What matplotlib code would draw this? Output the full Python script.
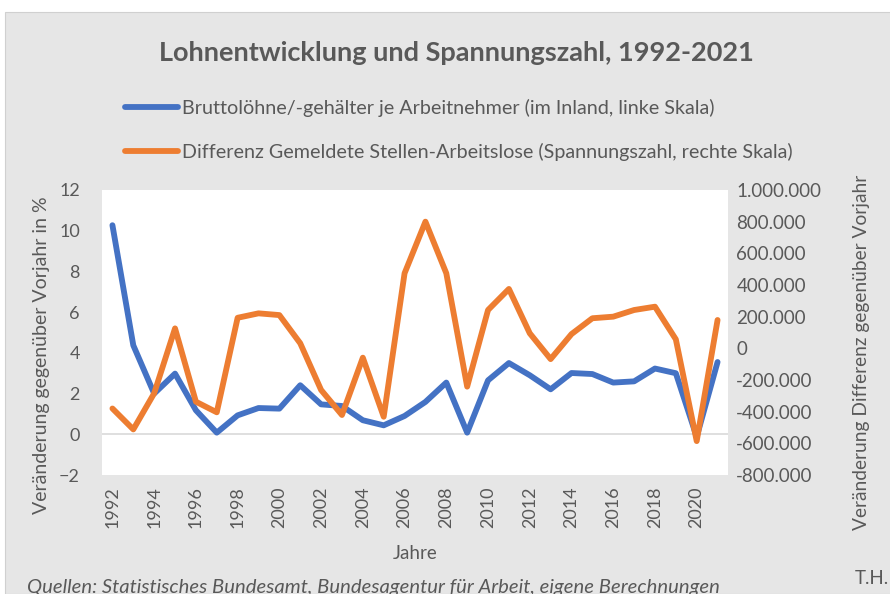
import matplotlib
matplotlib.use("Agg")
import matplotlib.pyplot as plt
from matplotlib.patches import Rectangle
from matplotlib.lines import Line2D
from matplotlib.ticker import FuncFormatter, MultipleLocator

years = list(range(1992, 2022))
wages = [10.27, 4.37, 2.0, 2.98, 1.18, 0.08, 0.93, 1.29, 1.26, 2.41,
         1.47, 1.39, 0.69, 0.44, 0.9, 1.59, 2.54, 0.08, 2.65, 3.5,
         2.9, 2.21, 3.01, 2.96, 2.54, 2.6, 3.23, 3.0, -0.13, 3.55]
spannung = [-380000, -512000, -284000, 126000, -337000, -404000, 193000, 221000, 210000, 32000,
            -263000, -421000, -59000, -432000, 474000, 800000, 474000, -242000, 242000, 375000,
            95000, -68000, 90000, 190000, 200000, 242000, 263000, 57000, -586000, 179000]

label_wages = "Bruttolöhne/-gehälter je Arbeitnehmer (im Inland, linke Skala)"
label_sp = "Differenz Gemeldete Stellen-Arbeitslose (Spannungszahl, rechte Skala)"
title = "Lohnentwicklung und Spannungszahl, 1992-2021"

plt.rcParams['font.family'] = ['Lato', 'DejaVu Sans']
txt = '#595959'
blue = '#4472C4'
orange = '#ED7D31'
bg = '#E6E6E6'

fig = plt.figure(figsize=(8.9, 5.94), dpi=100, facecolor='white')
fig.patches.append(Rectangle((5/890, 0), 1, 1 - 12/594, transform=fig.transFigure,
                             facecolor=bg, edgecolor='#D0D0D0', lw=0.8, zorder=-10))

ax = fig.add_axes([102/890, 1 - 475/594, (728 - 102)/890, (475 - 190)/594])
ax.set_facecolor('white')
ax2 = ax.twinx()

ax.plot(years, wages, color=blue, lw=4.2, solid_capstyle='round', solid_joinstyle='round', zorder=3)
ax2.plot(years, spannung, color=orange, lw=4.2, solid_capstyle='round', solid_joinstyle='round', zorder=3)

ax.set_xlim(1991.5, 2021.5)
ax.set_ylim(-2, 12)
ax.yaxis.set_major_locator(MultipleLocator(2))
ax2.set_ylim(-800000, 1000000)
ax2.yaxis.set_major_locator(MultipleLocator(200000))
ax2.yaxis.set_major_formatter(FuncFormatter(lambda v, p: f"{int(round(v)):,}".replace(",", ".")))
ax.set_xticks(years[::2])
ax.set_xticklabels([str(y) for y in years[::2]], rotation=90)

ax.axhline(0, color='#D9D9D9', lw=1.2, zorder=1)

for a in (ax, ax2):
    for s in a.spines.values():
        s.set_visible(False)
    a.tick_params(length=0, colors=txt, labelsize=13)
ax2.tick_params(axis='y', labelsize=13.5)
ax.tick_params(axis='y', pad=16)
ax.tick_params(axis='x', pad=8)
ax2.tick_params(axis='y', pad=6)
ax2.set_zorder(ax.get_zorder() + 1)
ax2.patch.set_visible(False)

ax.set_xlabel("Jahre", color=txt, fontsize=13.5, labelpad=12)
fig.text(42/890, 1 - 355/594, "Veränderung gegenüber Vorjahr in %", rotation=90,
         ha='center', va='center', color=txt, fontsize=14)
fig.text(862/890, 1 - 352/594, "Veränderung Differenz gegenüber Vorjahr", rotation=90,
         ha='center', va='center', color=txt, fontsize=13.8)

fig.text(456/890, 1 - 53/594, title, ha='center', va='center', color=txt,
         fontsize=19.5, fontweight='bold')

handles = [Line2D([], [], color=blue, lw=4.2, solid_capstyle='round'),
           Line2D([], [], color=orange, lw=4.2, solid_capstyle='round')]
leg = fig.legend(handles, [label_wages, label_sp], loc='upper left',
                 bbox_to_anchor=(125/890, 1 - 99/594), frameon=False,
                 fontsize=14.2, labelcolor=txt, handlelength=2.7, handletextpad=0.2,
                 labelspacing=1.3, borderpad=0, borderaxespad=0)

fig.text(27/890, 1 - 587/594, "Quellen: Statistisches Bundesamt, Bundesagentur für Arbeit, eigene Berechnungen",
         ha='left', va='center', color=txt, fontsize=14.6, style='italic')
fig.text(855/890, 1 - 578/594, "T.H.", ha='left', va='center', color=txt, fontsize=13.5)

fig.savefig("out.png", dpi=100, facecolor=fig.get_facecolor())
